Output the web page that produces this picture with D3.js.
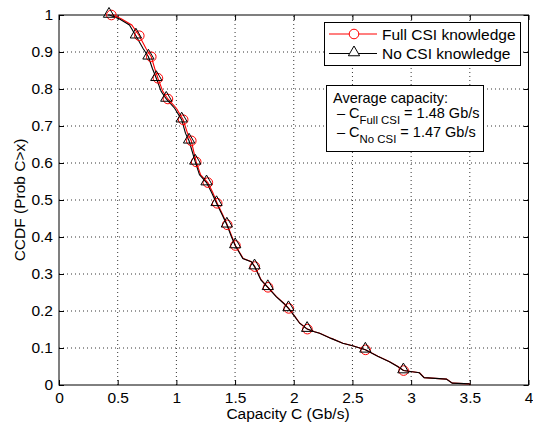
<!DOCTYPE html>
<html>
<head>
<meta charset="utf-8">
<script src="https://cdn.jsdelivr.net/npm/d3@7"></script>
<style>
  body { margin: 0; background: #fff; }
  svg text { font-family: "Liberation Sans", Arial, Helvetica, sans-serif; fill: #000; }
</style>
</head>
<body>
<svg id="chart"></svg>
<script>
// ccdf chart — capacity with / without CSI knowledge

const W = 533, H = 425;
const M = { left: 59, right: 4, top: 15, bottom: 40 };

const xTicks = [0, 0.5, 1, 1.5, 2, 2.5, 3, 3.5, 4];
const yTicks = [0, 0.1, 0.2, 0.3, 0.4, 0.5, 0.6, 0.7, 0.8, 0.9, 1];

// curves
const noCsiLine = [
  [0.417, 1.0], [0.43, 1.0], [0.516, 0.989], [0.60, 0.973], [0.655, 0.944], [0.715, 0.91],
  [0.762, 0.887], [0.795, 0.856], [0.829, 0.829], [0.871, 0.793], [0.914, 0.773], [0.985, 0.748],
  [1.045, 0.717], [1.078, 0.68], [1.108, 0.66], [1.135, 0.631], [1.161, 0.603], [1.197, 0.568],
  [1.257, 0.547], [1.30, 0.52], [1.342, 0.491], [1.39, 0.46], [1.43, 0.433], [1.47, 0.40],
  [1.501, 0.377], [1.566, 0.342], [1.637, 0.333], [1.666, 0.32], [1.72, 0.284], [1.779, 0.264],
  [1.85, 0.239], [1.92, 0.219], [1.955, 0.207], [2.006, 0.186], [2.05, 0.167], [2.114, 0.151],
  [2.176, 0.144], [2.22, 0.140], [2.318, 0.126], [2.417, 0.113], [2.50, 0.106], [2.61, 0.095],
  [2.715, 0.078], [2.815, 0.063], [2.885, 0.050], [2.934, 0.039], [3.07, 0.033], [3.11, 0.020],
  [3.30, 0.016], [3.35, 0.005], [3.495, 0.003], [3.50, 0.0]
];
const fullCsiLine = [
  [0.446, 1.0], [0.46, 1.0], [0.53, 0.99], [0.62, 0.973], [0.684, 0.944], [0.74, 0.91],
  [0.786, 0.887], [0.815, 0.856], [0.843, 0.829], [0.885, 0.793], [0.928, 0.773], [1.0, 0.748],
  [1.058, 0.717], [1.095, 0.68], [1.127, 0.66], [1.148, 0.631], [1.169, 0.603], [1.207, 0.568],
  [1.268, 0.547], [1.31, 0.52], [1.348, 0.491], [1.395, 0.46], [1.433, 0.433], [1.475, 0.40],
  [1.503, 0.377], [1.57, 0.342], [1.64, 0.333], [1.668, 0.32], [1.723, 0.284], [1.781, 0.264],
  [1.853, 0.239], [1.922, 0.219], [1.957, 0.207], [2.008, 0.186], [2.052, 0.167], [2.116, 0.151],
  [2.178, 0.144], [2.222, 0.140], [2.32, 0.126], [2.419, 0.113], [2.502, 0.106], [2.612, 0.095],
  [2.717, 0.078], [2.817, 0.063], [2.887, 0.050], [2.936, 0.039], [3.072, 0.033], [3.112, 0.020],
  [3.302, 0.016], [3.352, 0.005], [3.497, 0.003], [3.50, 0.0]
];

// marker positions (every few samples)
const markerY = [1.0, 0.944, 0.887, 0.829, 0.773, 0.717, 0.66, 0.603, 0.547, 0.491, 0.433, 0.377,
  0.32, 0.264, 0.207, 0.151, 0.095, 0.039];
const noCsiMarkX = [0.426, 0.655, 0.762, 0.829, 0.914, 1.045, 1.108, 1.161, 1.257, 1.342, 1.43, 1.501,
  1.666, 1.779, 1.955, 2.114, 2.61, 2.934];
const fullCsiMarkX = [0.446, 0.684, 0.786, 0.843, 0.928, 1.058, 1.127, 1.169, 1.268, 1.348, 1.433, 1.503,
  1.668, 1.781, 1.957, 2.116, 2.612, 2.936];

const svg = d3.select('#chart').attr('width', W).attr('height', H);
svg.append('rect').attr('width', W).attr('height', H).attr('fill', '#fff');

const x = d3.scaleLinear().domain([0, 4]).range([M.left, W - M.right - 0.5]);
const y = d3.scaleLinear().domain([0, 1]).range([H - M.bottom, M.top]);

// dotted grid
const grid = svg.append('g').attr('stroke', '#000').attr('stroke-width', 0.8)
  .attr('stroke-dasharray', '1,3');
grid.selectAll('.gx').data(xTicks.slice(1, -1)).join('line')
  .attr('x1', d => x(d)).attr('x2', d => x(d)).attr('y1', y(0)).attr('y2', y(1));
grid.selectAll('.gy').data(yTicks.slice(1, -1)).join('line')
  .attr('y1', d => y(d)).attr('y2', d => y(d)).attr('x1', x(0)).attr('x2', x(4));

// axes, ticks inside on all four sides
const fmt = d => String(d);
const axB = svg.append('g').attr('transform', `translate(0,${y(0)})`)
  .call(d3.axisBottom(x).tickValues(xTicks).tickFormat(fmt).tickSize(-5).tickPadding(7));
const axT = svg.append('g').attr('transform', `translate(0,${y(1)})`)
  .call(d3.axisTop(x).tickValues(xTicks).tickFormat('').tickSize(-5));
const axL = svg.append('g').attr('transform', `translate(${x(0)},0)`)
  .call(d3.axisLeft(y).tickValues(yTicks).tickFormat(fmt).tickSize(-5).tickPadding(6));
const axR = svg.append('g').attr('transform', `translate(${x(4)},0)`)
  .call(d3.axisRight(y).tickValues(yTicks).tickFormat('').tickSize(-5));
[axB, axT, axL, axR].forEach(a => {
  a.select('.domain').remove();
  a.selectAll('text').attr('font-size', 15.5).attr('font-family', '"Liberation Sans", Arial, sans-serif');
  a.selectAll('line').attr('stroke', '#000');
});

svg.append('rect')
  .attr('x', x(0)).attr('y', y(1))
  .attr('width', x(4) - x(0)).attr('height', y(0) - y(1))
  .attr('fill', 'none').attr('stroke', '#000').attr('stroke-width', 1);

// curves
const line = d3.line().x(d => x(d[0])).y(d => y(d[1]));
svg.append('path').datum(fullCsiLine).attr('d', line)
  .attr('fill', 'none').attr('stroke', '#f00').attr('stroke-width', 1.1);
svg.append('path').datum(noCsiLine).attr('d', line)
  .attr('fill', 'none').attr('stroke', '#000').attr('stroke-width', 1.1);

const tri = d3.symbol().type(d3.symbolTriangle).size(55);
svg.append('g').selectAll('circle').data(fullCsiMarkX).join('circle')
  .attr('cx', d => x(d)).attr('cy', (d, i) => y(markerY[i])).attr('r', 4.8)
  .attr('fill', 'none').attr('stroke', '#f00').attr('stroke-width', 1);
svg.append('g').selectAll('path').data(noCsiMarkX).join('path')
  .attr('d', tri)
  .attr('transform', (d, i) => `translate(${x(d)},${y(markerY[i]) - 1})`)
  .attr('fill', 'none').attr('stroke', '#000').attr('stroke-width', 1);

// axis labels
svg.append('text').attr('x', 288).attr('y', 419).attr('text-anchor', 'middle')
  .attr('font-size', 15.5).text('Capacity C (Gb/s)');
svg.append('text').attr('transform', `translate(25,${(y(0) + y(1)) / 2}) rotate(-90)`)
  .attr('text-anchor', 'middle').attr('font-size', 15.5).text('CCDF (Prob C>x)');

// legend
const leg = svg.append('g');
leg.append('rect').attr('x', 324.5).attr('y', 22.5).attr('width', 196).attr('height', 43)
  .attr('fill', '#fff').attr('stroke', '#000').attr('stroke-width', 1);
const legItems = [
  { label: 'Full CSI knowledge', color: '#f00', shape: 'circle', cy: 34 },
  { label: 'No CSI knowledge', color: '#000', shape: 'tri', cy: 53.5 }
];
legItems.forEach(it => {
  leg.append('line').attr('x1', 329).attr('x2', 377).attr('y1', it.cy).attr('y2', it.cy)
    .attr('stroke', it.color).attr('stroke-width', 1.1);
  if (it.shape === 'circle') {
    leg.append('circle').attr('cx', 354).attr('cy', it.cy).attr('r', 4.8)
      .attr('fill', '#fff').attr('stroke', it.color);
  } else {
    leg.append('path').attr('d', tri).attr('transform', `translate(354,${it.cy - 1})`)
      .attr('fill', '#fff').attr('stroke', it.color);
  }
  leg.append('text').attr('x', 382).attr('y', it.cy + 5.5).attr('font-size', 15.5).text(it.label);
});

// average-capacity note
const note = svg.append('g');
note.append('rect').attr('x', 326.5).attr('y', 85.5).attr('width', 157).attr('height', 66)
  .attr('fill', '#fff').attr('stroke', '#000').attr('stroke-width', 1);
note.append('text').attr('x', 333).attr('y', 102.5).attr('font-size', 14.5).text('Average capacity:');
const avgRows = [
  { sub: 'Full CSI', val: '1.48', yb: 118 },
  { sub: 'No CSI', val: '1.47', yb: 137 }
];
avgRows.forEach(r => {
  const t = note.append('text').attr('x', 337).attr('y', r.yb).attr('font-size', 14.5);
  t.append('tspan').text('\u2013 C');
  t.append('tspan').attr('dy', 6).attr('font-size', 11.4).text(r.sub);
  t.append('tspan').attr('dy', -6).text(` = ${r.val} Gb/s`);
});
</script>
</body>
</html>
